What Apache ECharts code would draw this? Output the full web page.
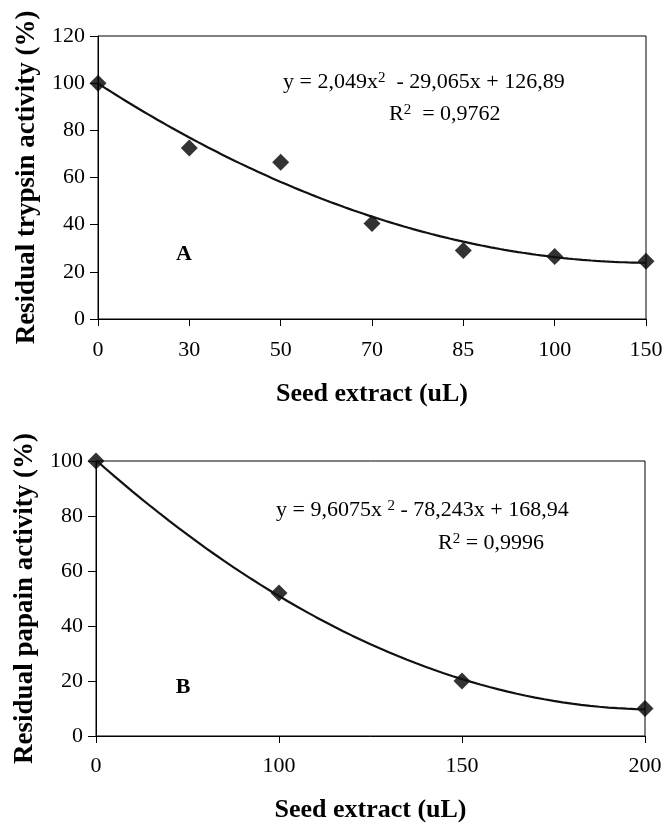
<!DOCTYPE html>
<html>
<head>
<meta charset="utf-8">
<title>Residual trypsin / papain activity</title>
<script src="https://cdn.jsdelivr.net/npm/echarts@6/dist/echarts.min.js"></script>
<style>
  html, body { margin: 0; padding: 0; background: #fff; }
  #main { width: 669px; height: 824px; }
</style>
</head>
<body>
<div id="main"></div>
<script>
// panel A - trypsin
var catsA = ['0', '30', '50', '70', '85', '100', '150'];
var valuesA = [100, 72.5, 66.5, 40.5, 29, 26.5, 24.5];
var trendCoefA = [2.049, -29.065, 126.89];   // y = a*x^2 + b*x + c, x = 1..n
var yTicksA = [0, 20, 40, 60, 80, 100, 120];

// panel B - papain
var catsB = ['0', '100', '150', '200'];
var valuesB = [100, 52, 20, 10];
var trendCoefB = [9.6075, -78.243, 168.94];
var yTicksB = [0, 20, 40, 60, 80, 100];

var FONT = '"Liberation Serif", "Times New Roman", serif';

// trend line drawn from the fitted equation printed on the chart
function trendPoints(coef, n) {
  var pts = [];
  for (var k = 0; k <= (n - 1) * 20; k++) {
    var i = k / 20;
    var x = i + 1;
    pts.push([i, coef[0] * x * x + coef[1] * x + coef[2]]);
  }
  return pts;
}

function pointData(vals) {
  return vals.map(function (v, i) { return [i, v]; });
}

function xAxisFor(gridIndex, cats, margin, nameGap) {
  return {
    gridIndex: gridIndex,
    type: 'value',
    min: 0,
    max: cats.length - 1,
    interval: 1,
    name: 'Seed extract (uL)',
    nameLocation: 'middle',
    nameGap: nameGap,
    nameTextStyle: { fontFamily: FONT, fontSize: 26, fontWeight: 'bold', color: '#000' },
    axisLine: { lineStyle: { color: '#000', width: 1 } },
    axisTick: { show: true, length: 7, lineStyle: { color: '#000' } },
    splitLine: { show: false },
    axisLabel: {
      fontFamily: FONT, fontSize: 22, color: '#000', margin: margin,
      formatter: function (v) { return cats[v]; }
    }
  };
}

function yAxisFor(gridIndex, ticks, name) {
  return {
    gridIndex: gridIndex,
    type: 'value',
    min: ticks[0],
    max: ticks[ticks.length - 1],
    interval: ticks[1] - ticks[0],
    name: name,
    nameLocation: 'middle',
    nameGap: 57,
    nameTextStyle: { fontFamily: FONT, fontSize: 27, fontWeight: 'bold', color: '#000' },
    axisLine: { show: true, lineStyle: { color: '#000', width: 1 } },
    axisTick: { show: true, length: 8, lineStyle: { color: '#000' } },
    splitLine: { show: false },
    axisLabel: { fontFamily: FONT, fontSize: 22, color: '#000', margin: 13 }
  };
}

function eqText(x, y, text) {
  return {
    type: 'text',
    x: x,
    y: y,
    style: {
      text: text,
      fontFamily: FONT,
      fontSize: 22,
      fill: '#000',
      align: 'left',
      verticalAlign: 'middle',
      textAlign: 'left',
      textVerticalAlign: 'middle',
      rich: {
        s: { fontFamily: FONT, fontSize: 15, verticalAlign: 'top', fill: '#000' }
      }
    }
  };
}

function panelLabel(x, y, text) {
  return {
    type: 'text',
    x: x,
    y: y,
    style: {
      text: text,
      fontFamily: FONT,
      fontSize: 22,
      fontWeight: 'bold',
      fill: '#000',
      align: 'center',
      verticalAlign: 'middle',
      textAlign: 'center',
      textVerticalAlign: 'middle'
    }
  };
}

var myChart = echarts.init(document.getElementById('main'), null, { renderer: 'canvas' });

var options = {
  backgroundColor: '#fff',
  animation: false,
  grid: [
    { left: 98, right: 23, top: 36, height: 283, show: true, borderColor: '#000', borderWidth: 1 },
    { left: 96, right: 24, top: 461, height: 277, show: true, borderColor: '#000', borderWidth: 1 }
  ],
  xAxis: [
    xAxisFor(0, catsA, 20, 62),
    xAxisFor(1, catsB, 19, 61)
  ],
  yAxis: [
    yAxisFor(0, yTicksA, 'Residual trypsin activity (%)'),
    yAxisFor(1, yTicksB, 'Residual papain activity (%)')
  ],
  series: [
    {
      type: 'line', xAxisIndex: 0, yAxisIndex: 0,
      data: trendPoints(trendCoefA, catsA.length),
      showSymbol: false, smooth: false,
      lineStyle: { color: '#111', width: 2.2 }
    },
    {
      type: 'scatter', xAxisIndex: 0, yAxisIndex: 0,
      data: pointData(valuesA),
      symbol: 'diamond', symbolSize: [17, 17],
      itemStyle: { color: '#000' }
    },
    {
      type: 'line', xAxisIndex: 1, yAxisIndex: 1,
      data: trendPoints(trendCoefB, catsB.length),
      showSymbol: false, smooth: false,
      lineStyle: { color: '#111', width: 2.2 }
    },
    {
      type: 'scatter', xAxisIndex: 1, yAxisIndex: 1,
      data: pointData(valuesB),
      symbol: 'diamond', symbolSize: [17, 17],
      itemStyle: { color: '#000' }
    }
  ],
  graphic: [
    eqText(283, 82, 'y = 2,049x{s|2}  - 29,065x + 126,89'),
    eqText(389, 114, 'R{s|2}  = 0,9762'),
    eqText(276, 510, 'y = 9,6075x {s|2} - 78,243x + 168,94'),
    eqText(438, 543, 'R{s|2} = 0,9996'),
    panelLabel(184, 254, 'A'),
    panelLabel(183, 687, 'B')
  ]
};

myChart.setOption(options, true);
</script>
</body>
</html>
